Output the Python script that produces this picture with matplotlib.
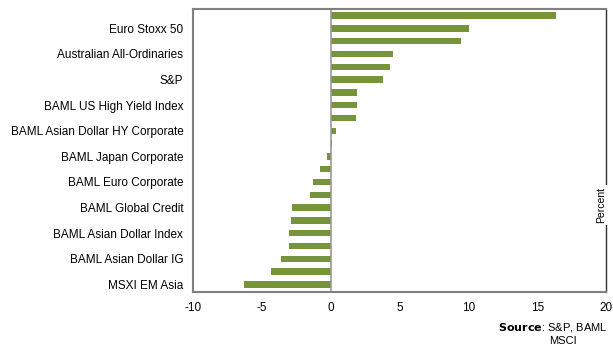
import matplotlib.pyplot as plt

# bottom to top (22 bars, every other one labelled)
labels = ["MSXI EM Asia", "BAML Asian Dollar IG", "BAML Asian Dollar Index",
          "BAML Global Credit", "BAML Euro Corporate", "BAML Japan Corporate",
          "BAML Asian Dollar HY Corporate", "BAML US High Yield Index", "S&P",
          "Australian All-Ordinaries", "Euro Stoxx 50"]
values = [-6.33, -4.37, -3.64, -3.05, -3.05, -2.91, -2.84, -1.52, -1.30, -0.78, -0.25,
          0.07, 0.41, 1.80, 1.90, 1.90, 3.78, 4.29, 4.56, 9.47, 10.03, 16.38]
xticks = [-10, -5, 0, 5, 10, 15, 20]

plt.rcParams['font.family'] = ['Liberation Sans', 'DejaVu Sans']

fig = plt.figure(figsize=(6.13, 3.51), dpi=100)
ax = fig.add_axes([0.315, 0.168, 0.6736, 0.806])

pos = list(range(len(values)))
ax.barh(pos, values, height=0.5, color='#77933C')
ax.axvline(0, color='#999999', lw=1.2)

ax.set_xlim(-10, 20)
ax.set_ylim(-0.6, 21.5)
ax.set_xticks(xticks)
ax.set_xticklabels([str(t) for t in xticks], fontsize=8.5)
ax.set_yticks(pos[::2])
ax.set_yticklabels(labels, fontsize=8.5)
ax.tick_params(length=0, pad=7)

for s in ['left', 'top', 'bottom']:
    ax.spines[s].set_color('#808080')
    ax.spines[s].set_linewidth(1.5)
ax.spines['right'].set_color('#303030')
ax.spines['right'].set_linewidth(1.0)

fig.text(0.981, 0.416, "Percent", rotation=90, ha='center', va='center', fontsize=7.5,
         bbox=dict(facecolor='white', edgecolor='none', pad=1.5))

fig.text(0.992, 0.068, r"$\bf{Source}$: S&P, BAML", ha='right', va='center', fontsize=8)
fig.text(0.918, 0.028, "MSCI", ha='center', va='center', fontsize=8)

plt.savefig("out.png")
plt.close()
